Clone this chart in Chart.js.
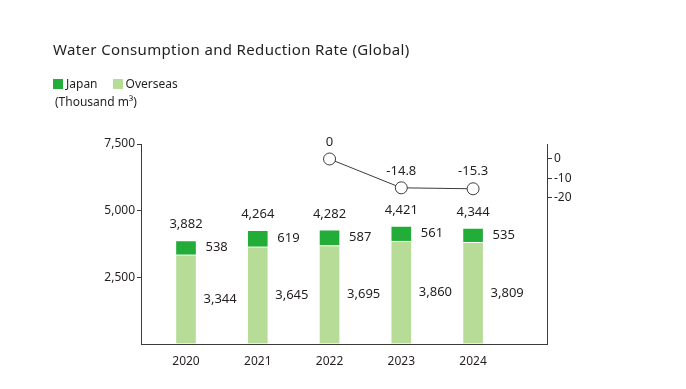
<!DOCTYPE html>
<html>
<head>
<meta charset="utf-8">
<script src="https://cdn.jsdelivr.net/npm/chart.js@4"></script>
<style>
  body { margin: 0; background: #fff; font-family: "Noto Sans", sans-serif; color: #231f20; }
  #wrap { position: relative; width: 686px; height: 389px; }
  #title { position: absolute; left: 53px; top: 39px; font-size: 15px; letter-spacing: 0.35px; }
  #legend { position: absolute; left: 53px; top: 75px; font-size: 12px; }
  #legend span.box { display: inline-block; width: 10px; height: 10px; vertical-align: -1px; margin-right: 3px; }
  #unit { position: absolute; left: 55px; top: 93px; font-size: 12px; }
  canvas { position: absolute; left: 0; top: 0; }
</style>
</head>
<body>
<div id="wrap">
  <canvas id="waterChart" width="686" height="389"></canvas>
  <div id="title">Water Consumption and Reduction Rate (Global)</div>
  <div id="legend"><span class="box" style="background:#22ac38"></span>Japan<span style="display:inline-block;width:15px"></span><span class="box" style="background:#b6dc98"></span>Overseas</div>
  <div id="unit">(Thousand m³)</div>
</div>
<script>
const years = [2020, 2021, 2022, 2023, 2024];
const japan = [538, 619, 587, 561, 535];
const overseas = [3344, 3645, 3695, 3860, 3809];
const rateYears = [2022, 2023, 2024];
const rates = [0, -14.8, -15.3];
const leftTicks = [2500, 5000, 7500];
const rightTicks = [0, -10, -20];

const darkGreen = '#22ac38';
const lightGreen = '#b6dc98';
const textColor = '#231f20';
const fmt = v => v.toLocaleString('en-US');

// draws the value labels next to / above the bars and points
const valueLabels = {
  id: 'valueLabels',
  afterDatasetsDraw(chart) {
    const ctx = chart.ctx;
    const over = chart.getDatasetMeta(0).data;
    const jp = chart.getDatasetMeta(1).data;
    const line = chart.getDatasetMeta(2).data;
    ctx.save();
    ctx.fillStyle = textColor;
    ctx.font = '13px "Noto Sans"';
    ctx.textBaseline = 'middle';
    years.forEach((y, i) => {
      const o = over[i], j = jp[i];
      ctx.textAlign = 'center';
      ctx.fillText(fmt(japan[i] + overseas[i]), j.x, j.y - 16);
      ctx.textAlign = 'left';
      ctx.fillText(fmt(japan[i]), j.x + j.width / 2 + 9, (j.y + j.base) / 2);
      ctx.fillText(fmt(overseas[i]), o.x + o.width / 2 + 7, (o.y + o.base) / 2);
    });
    ctx.textAlign = 'center';
    line.forEach((p, i) => {
      ctx.fillText(String(rates[i]), p.x, p.y - 17);
    });
    ctx.restore();
  }
};

const ctx = document.getElementById('waterChart').getContext('2d');
const waterChart = new Chart(ctx, {
  data: {
    datasets: [
      {
        type: 'bar',
        label: 'Overseas',
        data: years.map((y, i) => ({ x: y, y: overseas[i] })),
        backgroundColor: lightGreen,
        borderColor: '#ffffff',
        borderWidth: 1,
        barThickness: 21,
        yAxisID: 'y',
        order: 2
      },
      {
        type: 'bar',
        label: 'Japan',
        data: years.map((y, i) => ({ x: y, y: japan[i] })),
        backgroundColor: darkGreen,
        borderColor: '#ffffff',
        borderWidth: 1,
        barThickness: 21,
        yAxisID: 'y',
        order: 2
      },
      {
        type: 'line',
        label: 'Reduction rate',
        data: rateYears.map((y, i) => ({ x: y, y: rates[i] })),
        borderColor: '#3e3a39',
        borderWidth: 1,
        pointRadius: 6,
        pointBackgroundColor: '#ffffff',
        pointBorderColor: '#3e3a39',
        pointBorderWidth: 1,
        yAxisID: 'y2',
        order: 1
      }
    ]
  },
  options: {
    responsive: false,
    animation: false,
    layout: { padding: { top: 144, left: 0, right: 0, bottom: 0 } },
    plugins: { legend: { display: false }, tooltip: { enabled: false } },
    scales: {
      x: {
        type: 'linear',
        stacked: true,
        offset: false,
        min: 2019.373,
        max: 2025.03,
        afterBuildTicks: s => { s.ticks = years.map(v => ({ value: v })); },
        grid: { display: false },
        border: { display: true, color: '#3e3a39', width: 1 },
        ticks: {
          autoSkip: false,
          maxRotation: 0,
          color: textColor,
          font: { family: 'Noto Sans', size: 12 },
          padding: 2,
          callback: v => String(v)
        },
        afterFit: s => { s.height = 45; }
      },
      y: {
        stacked: true,
        min: 0,
        max: 7500,
        afterBuildTicks: s => { s.ticks = [0].concat(leftTicks).map(v => ({ value: v })); },
        grid: {
          drawOnChartArea: false,
          tickLength: 4,
          color: c => c.tick && c.tick.value === 0 ? 'rgba(0,0,0,0)' : '#3e3a39'
        },
        border: { display: true, color: '#3e3a39', width: 1 },
        ticks: {
          color: textColor,
          font: { family: 'Noto Sans', size: 12 },
          padding: 2,
          callback: v => leftTicks.includes(v) ? fmt(v) : ''
        },
        afterFit: s => { s.width = 141; }
      },
      y2: {
        position: 'right',
        min: -95,
        max: 7.7,
        afterBuildTicks: s => { s.ticks = rightTicks.map(v => ({ value: v })); },
        grid: { drawOnChartArea: false, tickLength: 5, color: '#3e3a39' },
        border: { display: true, color: '#3e3a39', width: 1 },
        ticks: {
          color: textColor,
          font: { family: 'Noto Sans', size: 12 },
          padding: 2,
          callback: v => String(v)
        },
        afterFit: s => { s.width = 139; }
      }
    }
  },
  plugins: [valueLabels]
});
</script>
</body>
</html>
